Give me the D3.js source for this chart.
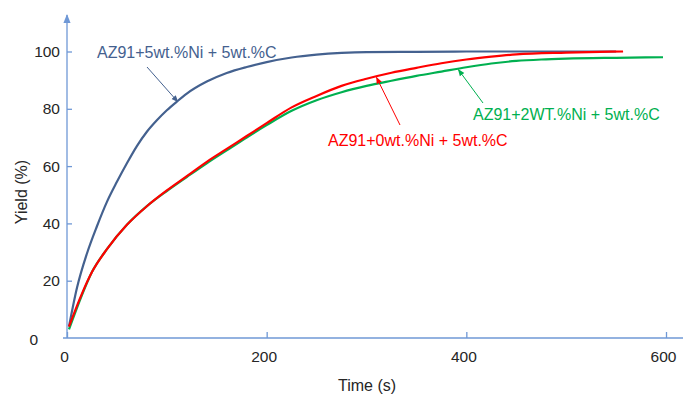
<!DOCTYPE html>
<html>
<head>
<meta charset="utf-8">
<script src="https://cdn.jsdelivr.net/npm/d3@7"></script>
<style>
  body { margin: 0; background: #fff; }
  svg text { font-family: "Liberation Sans", Arial, sans-serif; }
</style>
</head>
<body>
<svg id="chart" width="683" height="394"></svg>
<script>
// values
var xTicks = [0, 200, 400, 600];
var yTicks = [0, 20, 40, 60, 80, 100];

var timeBlue = [2, 10, 20, 30, 40, 50, 60, 70, 80, 90, 100, 110, 120, 140, 160, 180, 200, 225, 250, 275, 300, 350, 400, 450, 500, 550];
var yieldBlue = [4, 17.5, 29.5, 39, 47.5, 54.5, 61, 67, 72, 76, 79.5, 82.5, 85.3, 89.5, 92.5, 94.6, 96.3, 97.9, 98.9, 99.5, 99.8, 99.9, 100, 100, 100, 100];

var timeRed = [2, 15, 25, 40, 60, 80, 100, 120, 140, 160, 180, 200, 225, 250, 275, 300, 325, 350, 375, 400, 425, 450, 500, 557];
var yieldRed = [4, 15.5, 23, 31, 39.5, 46, 51.5, 56.5, 61.5, 66, 70.5, 75, 80.5, 84.5, 88, 90.5, 92.6, 94.3, 95.9, 97.2, 98.2, 99, 99.6, 100];

var timeGreen = [2, 15, 25, 40, 60, 80, 100, 120, 140, 160, 180, 200, 225, 250, 275, 300, 325, 350, 375, 400, 425, 450, 475, 500, 550, 597];
var yieldGreen = [3, 15, 23, 31, 39.5, 46, 51.3, 56.2, 61, 65.5, 70, 74.3, 79.3, 83, 85.8, 88, 89.8, 91.5, 93, 94.5, 95.8, 96.7, 97.2, 97.5, 97.8, 98];

var seriesNames = ["AZ91+5wt.%Ni + 5wt.%C", "AZ91+0wt.%Ni + 5wt.%C", "AZ91+2WT.%Ni + 5wt.%C"];
var seriesColors = ["#44618f", "#ff0000", "#00b050"];

var axisColor = "#6f98d6";
var textColor = "#262626";

var svg = d3.select("#chart");

var x = d3.scaleLinear().domain([0, 600]).range([67, 666]);
var y = d3.scaleLinear().domain([0, 100]).range([338, 51.5]);

// arrow markers
var defs = svg.append("defs");
function addMarker(id, color, size) {
  defs.append("marker")
    .attr("id", id)
    .attr("viewBox", "0 0 10 10")
    .attr("refX", 9).attr("refY", 5)
    .attr("markerWidth", size).attr("markerHeight", size)
    .attr("markerUnits", "userSpaceOnUse")
    .attr("orient", "auto")
    .append("path")
    .attr("d", "M0,1 L10,5 L0,9 Z")
    .attr("fill", color);
}
addMarker("arrAxis", axisColor, 9);
seriesColors.forEach(function(c, i) { addMarker("arr" + i, c, 7); });

// axis lines
svg.append("line")
  .attr("x1", 63).attr("x2", 683)
  .attr("y1", y(0)).attr("y2", y(0))
  .attr("stroke", axisColor).attr("stroke-width", 1.3);
svg.append("line")
  .attr("x1", x(0)).attr("x2", x(0))
  .attr("y1", y(0)).attr("y2", 15)
  .attr("stroke", axisColor).attr("stroke-width", 1.3)
  .attr("marker-end", "url(#arrAxis)");

var gx = svg.append("g")
  .attr("transform", "translate(0," + y(0) + ")")
  .call(d3.axisBottom(x).tickValues(xTicks).tickSize(-6).tickPadding(13));
var gy = svg.append("g")
  .attr("transform", "translate(" + x(0) + ",0)")
  .call(d3.axisLeft(y).tickValues(yTicks).tickSize(-5).tickPadding(7));

[gx, gy].forEach(function(g) {
  g.select(".domain").remove();
  g.selectAll(".tick line").attr("stroke", axisColor).attr("stroke-width", 1.3);
  g.selectAll(".tick text")
    .attr("fill", textColor)
    .style("font-size", "15.5px")
    .style("font-family", "Liberation Sans, Arial, sans-serif");
});
gx.selectAll(".tick text").attr("dx", "-3");
// zero of y-axis sits lower-left in the original
gy.selectAll(".tick").filter(function(d) { return d === 0; })
  .select("text").attr("x", -29).attr("dy", "0.4em");
gy.selectAll(".tick").filter(function(d) { return d === 0; })
  .select("line").remove();

// axis titles
svg.append("text")
  .attr("x", 367).attr("y", 391)
  .attr("text-anchor", "middle")
  .attr("fill", textColor)
  .style("font-size", "16px")
  .text("Time (s)");
svg.append("text")
  .attr("transform", "translate(27,192) rotate(-90)")
  .attr("text-anchor", "middle")
  .attr("fill", textColor)
  .style("font-size", "16px")
  .text("Yield (%)");

// curves
var line = d3.line()
  .x(function(d) { return x(d[0]); })
  .y(function(d) { return y(d[1]); })
  .curve(d3.curveMonotoneX);

var series = [
  d3.zip(timeBlue, yieldBlue),
  d3.zip(timeGreen, yieldGreen),
  d3.zip(timeRed, yieldRed)
];
var order = [0, 2, 1];

svg.selectAll("path.curve")
  .data(series)
  .enter().append("path")
  .attr("class", "curve")
  .attr("d", line)
  .attr("fill", "none")
  .attr("stroke", function(d, i) { return seriesColors[order[i]]; })
  .attr("stroke-width", 2.2);

// annotations: label position, arrow start and the time on the curve it points to
var labels = [
  { tx: 97, ty: 58, ax: 147, ay: 67, t: 111, s: 0 },
  { tx: 328, ty: 146, ax: 400, ay: 125, t: 310, s: 1 },
  { tx: 473, ty: 120, ax: 483, ay: 103, t: 392, s: 2 }
];
var timesBy = [timeBlue, timeRed, timeGreen];
var yieldsBy = [yieldBlue, yieldRed, yieldGreen];

labels.forEach(function(l) {
  var yy = d3.scaleLinear().domain(timesBy[l.s]).range(yieldsBy[l.s])(l.t);
  svg.append("line")
    .attr("x1", l.ax).attr("y1", l.ay)
    .attr("x2", x(l.t)).attr("y2", y(yy) + 1)
    .attr("stroke", seriesColors[l.s]).attr("stroke-width", 1)
    .attr("marker-end", "url(#arr" + l.s + ")");
  svg.append("text")
    .attr("x", l.tx).attr("y", l.ty)
    .attr("fill", seriesColors[l.s])
    .style("font-size", "16px")
    .text(seriesNames[l.s]);
});
</script>
</body>
</html>
